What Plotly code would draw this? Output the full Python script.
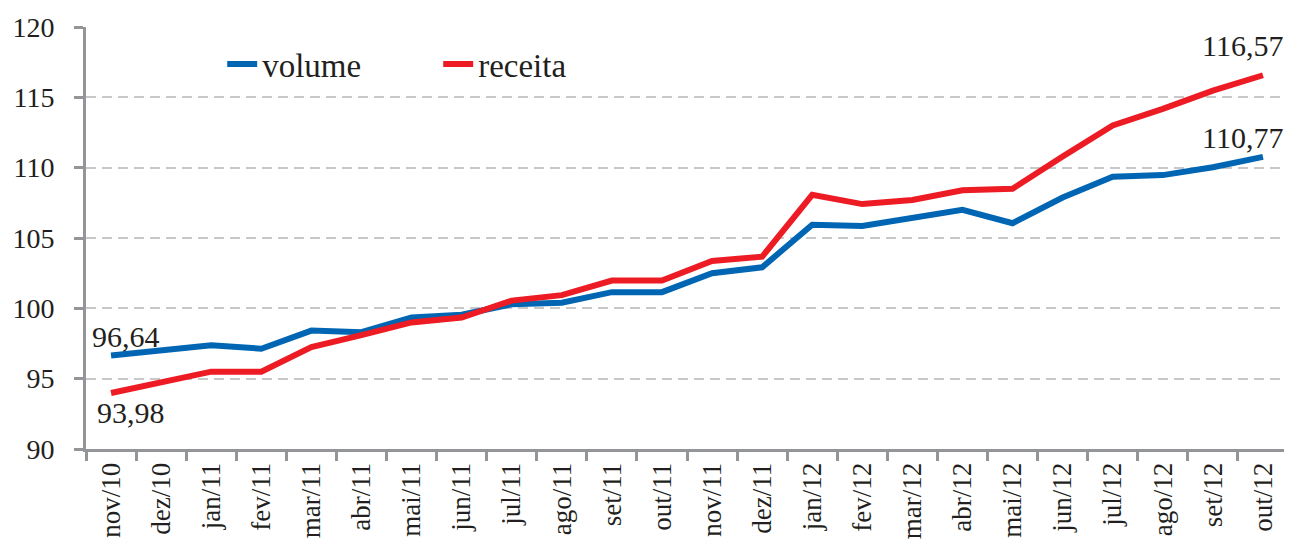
import plotly.graph_objects as go

categories = ["nov/10", "dez/10", "jan/11", "fev/11", "mar/11", "abr/11", "mai/11", "jun/11",
              "jul/11", "ago/11", "set/11", "out/11", "nov/11", "dez/11", "jan/12", "fev/12",
              "mar/12", "abr/12", "mai/12", "jun/12", "jul/12", "ago/12", "set/12", "out/12"]
volume = [96.64, 96.97, 97.37, 97.13, 98.42, 98.30, 99.35, 99.55, 100.29, 100.40, 101.15, 101.15,
          102.50, 102.92, 105.94, 105.85, 106.38, 107.00, 106.05, 107.88, 109.35, 109.47, 110.03, 110.77]
receita = [93.98, 94.70, 95.50, 95.50, 97.25, 98.10, 99.00, 99.35, 100.55, 100.94, 101.97, 101.97,
           103.37, 103.67, 108.07, 107.41, 107.70, 108.39, 108.50, 110.80, 113.00, 114.18, 115.47, 116.57]
y_ticks = [90, 95, 100, 105, 110, 115, 120]

BLUE = "#0066B3"
RED = "#ED1C24"
FONT = "'Liberation Serif', 'Times New Roman', Times, 'DejaVu Serif', serif"
TXT = "#231F20"
AXC = "#939598"

def fmt(v):
    return f"{v:.2f}".replace(".", ",")

fig = go.Figure()
fig.add_trace(go.Scatter(x=categories, y=volume, name="volume", mode="lines",
                         line=dict(color=BLUE, width=6)))
fig.add_trace(go.Scatter(x=categories, y=receita, name="receita", mode="lines",
                         line=dict(color=RED, width=6)))

ann = [
    dict(x=categories[0], y=volume[0], text=fmt(volume[0]), yanchor="bottom", yshift=1, xshift=15),
    dict(x=categories[0], y=receita[0], text=fmt(receita[0]), yanchor="top", yshift=-1, xshift=20),
    dict(x=categories[-1], y=volume[-1], text=fmt(volume[-1]), yanchor="bottom", yshift=1, xshift=-20),
    dict(x=categories[-1], y=receita[-1], text=fmt(receita[-1]), yanchor="bottom", yshift=11, xshift=-20),
]
for a in ann:
    fig.add_annotation(**a, showarrow=False, xanchor="center",
                       font=dict(family=FONT, size=30, color=TXT))

fig.update_layout(
    width=1284, height=535,
    margin=dict(l=73, r=4, t=19, b=88),
    plot_bgcolor="white", paper_bgcolor="white",
    font=dict(family=FONT, color=TXT),
    showlegend=True,
    legend=dict(orientation="h", x=0.1133, y=0.912, xanchor="left", yanchor="middle",
                font=dict(family=FONT, size=33, color=TXT), bgcolor="rgba(0,0,0,0)",
                entrywidth=171, entrywidthmode="pixels", tracegroupgap=0),
)
fig.update_xaxes(
    type="category", showgrid=False, showline=True, linecolor=AXC, linewidth=3,
    ticks="outside", tickson="boundaries", ticklen=9, tickwidth=3, tickcolor=AXC,
    tickangle=-90, tickfont=dict(family=FONT, size=27, color=TXT),
    range=[-0.5, len(categories) - 0.5],
)
fig.update_yaxes(
    range=[90, 120], tickvals=y_ticks, showgrid=True, gridcolor="#C8C8C8", griddash="10px,6px",
    gridwidth=1.5, showline=True, linecolor=AXC, linewidth=3, ticks="outside",
    ticklen=9, tickwidth=3, tickcolor=AXC, zeroline=False,
    tickfont=dict(family=FONT, size=28, color=TXT), ticklabelstandoff=14,
)

fig.write_html("out.html")
